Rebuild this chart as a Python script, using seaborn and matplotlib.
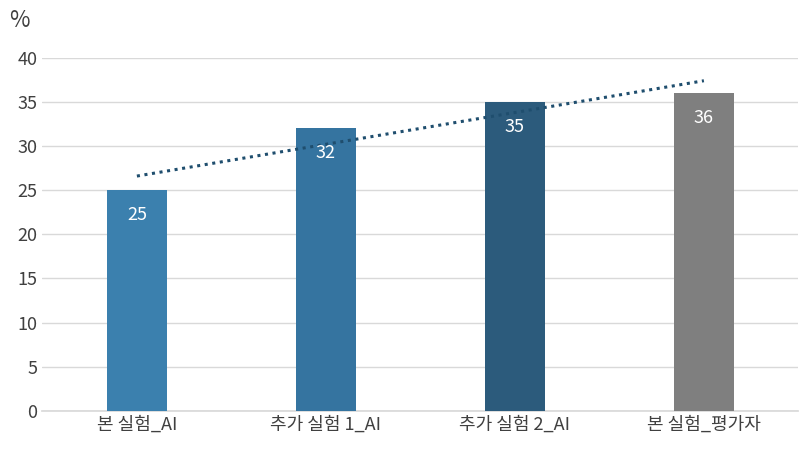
import matplotlib
matplotlib.use("Agg")
import matplotlib.pyplot as plt
import seaborn as sns
import numpy as np
import pandas as pd

categories = ["본 실험_AI", "추가 실험 1_AI", "추가 실험 2_AI", "본 실험_평가자"]
values = [25, 32, 35, 36]
colors = ["#3b80ae", "#3574a0", "#2c5b7c", "#7f7f7f"]
yticks = [0, 5, 10, 15, 20, 25, 30, 35, 40]

sns.set_theme(style="white")
plt.rcParams['font.family'] = ['Noto Sans CJK KR', 'DejaVu Sans']

fig = plt.figure(figsize=(8, 4.55), dpi=100)
ax = fig.add_axes([0.053, 0.097, 0.945, 0.776])
df = pd.DataFrame({"cat": categories, "val": values})
sns.barplot(data=df, x="cat", y="val", hue="cat", palette=colors, width=0.32,
            saturation=1, linewidth=0, legend=False, ax=ax, zorder=3)

x = np.arange(len(values))
m, b = np.polyfit(x, values, 1)
xs = np.array([0, len(values) - 1])
ax.plot(xs, m * xs + b, linestyle=(0, (1, 1.5)), color="#1f4e6e", lw=2.2, zorder=4)

for i, v in enumerate(values):
    ax.text(i, v - 2.8, str(v), color="white", ha="center", va="center", fontsize=13, zorder=5)

ax.set_xlim(-0.5, 3.5)
ax.set_ylim(0, 40)
ax.set_yticks(yticks)
ax.yaxis.grid(True, color="#d9d9d9", lw=1, zorder=0)
ax.set_xlabel("")
ax.set_ylabel("")
ax.tick_params(axis="both", labelsize=13, colors="#404040", length=0)
for s in ["top", "right", "left"]:
    ax.spines[s].set_visible(False)
ax.spines["bottom"].set_color("#d9d9d9")
fig.text(0.012, 0.955, "%", fontsize=16, color="#404040", va="center")
fig.savefig("out.png", dpi=100)
